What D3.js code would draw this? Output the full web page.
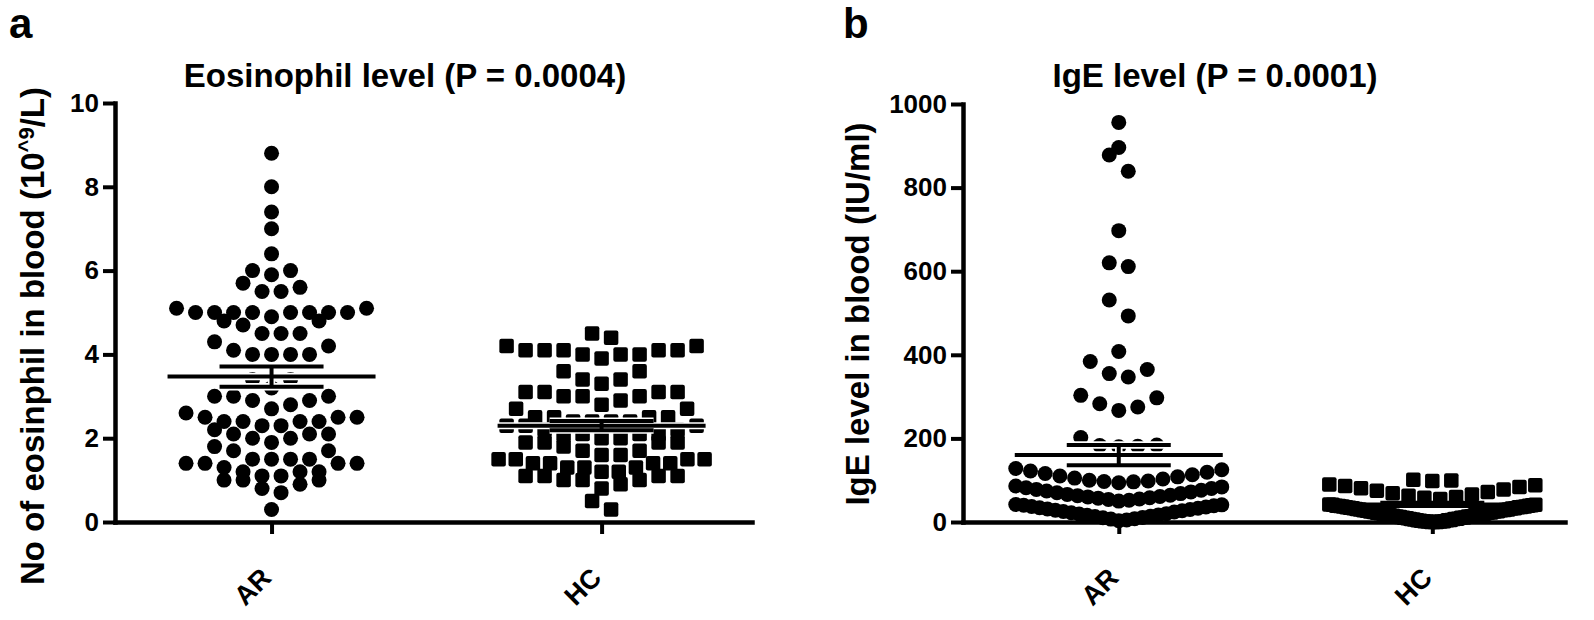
<!DOCTYPE html>
<html lang="en">
<head>
<meta charset="UTF-8">
<title>Eosinophil and IgE level</title>
<style>
    body { margin: 0; background: #fff; }
    svg { display: block; font-family: "Liberation Sans", Arial, sans-serif; font-weight: bold; }
</style>
</head>
<body>
<svg id="chart" width="1594" height="620"></svg>
<script src="https://d3js.org/d3.v7.min.js"></script>
<script>
    // --- data ---
    const groups = ["AR", "HC"];

    const eosAR = [8.8, 8.0, 7.4, 7.0, 6.4, 6.0, 6.0, 5.9, 5.7, 5.6, 5.5, 5.5, 5.1, 5.1,
        5.0, 5.0, 5.0, 5.0, 5.0, 5.0, 5.0, 5.0, 4.9, 4.8, 4.8, 4.7, 4.5, 4.5, 4.5, 4.3, 4.2,
        4.1, 4.0, 4.0, 4.0, 4.0, 3.4, 3.4, 3.2, 3.0, 3.0, 3.0, 2.9, 2.9, 2.8, 2.7, 2.6, 2.5,
        2.5, 2.5, 2.4, 2.4, 2.4, 2.4, 2.3, 2.3, 2.2, 2.1, 2.1, 2.1, 2.0, 2.0, 1.9, 1.8, 1.7,
        1.7, 1.5, 1.5, 1.5, 1.5, 1.4, 1.4, 1.4, 1.4, 1.3, 1.2, 1.2, 1.2, 1.1, 1.1, 1.0, 1.0,
        1.0, 0.9, 0.8, 0.7, 0.3];
    const eosHC = [4.5, 4.4, 4.2, 4.2, 4.1, 4.1, 4.1, 4.1, 4.1, 4.0, 4.0, 4.0, 3.9, 3.6, 3.6,
        3.4, 3.4, 3.3, 3.1, 3.1, 3.1, 3.1, 3.0, 3.0, 3.0, 2.9, 2.8, 2.7, 2.7, 2.5, 2.5, 2.5,
        2.5, 2.4, 2.4, 2.4, 2.4, 2.3, 2.3, 2.3, 2.2, 2.2, 2.1, 2.1, 2.1, 2.1, 2.0, 2.0, 1.9,
        1.9, 1.9, 1.9, 1.8, 1.7, 1.7, 1.6, 1.6, 1.5, 1.5, 1.5, 1.5, 1.4, 1.4, 1.4, 1.4, 1.3,
        1.3, 1.3, 1.2, 1.2, 1.1, 1.1, 1.1, 1.1, 1.0, 1.0, 1.0, 0.9, 0.8, 0.5, 0.3];
    const eosMean = [3.47, 2.30];
    const eosSem = [0.24, 0.11];
    const eosTicks = [0, 2, 4, 6, 8, 10];

    const igeAR = [956, 896, 878, 839, 697, 620, 611, 531, 493, 408, 384, 365, 355, 347,
        303, 297, 283, 275, 267, 202, 184, 183, 181, 180,
        128, 125, 122, 119, 116, 113, 110, 108, 105, 103, 100, 98, 97, 96, 94,
        86, 84, 82, 80, 78, 76, 74, 72, 70, 68, 66, 64, 63, 61, 60, 58, 57, 55, 54, 52, 50,
        42, 41, 40, 39, 37, 36, 34, 33, 31, 30, 28, 27, 25, 24, 22, 20, 19, 17, 16, 14, 13,
        11, 10, 8, 7, 5, 3];
    const igeHC = [101, 99, 98,
        90, 88, 86, 84, 81, 78, 75, 72, 69, 66, 63, 60, 58, 55,
        42, 41, 41, 40, 39, 39, 38, 37, 37, 36, 35, 35, 34, 33, 33, 32, 31, 30, 30, 29,
        28, 28, 27, 26, 25, 25, 24, 23, 22, 22, 21, 20, 19, 19, 18, 17, 16, 16, 15, 14,
        13, 13, 12, 11, 10, 10, 9, 8, 7, 7, 6, 5, 4, 4, 3, 2, 2, 1, 1, 0, 0, 0];
    const igeMean = [160, 42];
    const igeSem = [24, 4];
    const igeTicks = [0, 200, 400, 600, 800, 1000];

    const panels = [
        {
            letter: "a", title: "Eosinophil level (P = 0.0004)",
            ylab: ["No of eosinphil in blood (10", "^9", "/L)"],
            series: [eosAR, eosHC], mean: eosMean, sem: eosSem, ticks: eosTicks,
            domain: [0, 10], bin: 0.35, halo: [7.5, 7],
            left: 115, right: 752, top: 103, bottom: 522, pad: 0.465, align: 0.51,
            labX: 32, labY: 336, titleX: 405, letterX: 9
        },
        {
            letter: "b", title: "IgE level (P = 0.0001)",
            ylab: ["IgE level in blood (IU/ml)"],
            series: [igeAR, igeHC], mean: igeMean, sem: igeSem, ticks: igeTicks,
            domain: [0, 1000], bin: 42, halo: [7.5, 0],
            left: 963, right: 1565, top: 104, bottom: 522, pad: 0.46, align: 0.54,
            labX: 857, labY: 314, titleX: 1215, letterX: 843
        }
    ];

    const svg = d3.select("#chart");
    const spacing = 19, maxWidth = 206, radius = 7.5, sq = 14.5;

    // GraphPad-like scatter: group close values, lowest value in the middle
    function swarm(values, binSize) {
        const sorted = values.slice().sort(d3.ascending);
        const out = [];
        let i = 0;
        while (i < sorted.length) {
            const start = sorted[i];
            let j = i;
            while (j < sorted.length && sorted[j] <= start + binSize + 1e-9) j++;
            const n = j - i;
            const step = n > 1 ? Math.min(spacing, maxWidth / (n - 1)) : 0;
            const slots = d3.range(n).map(k => k - (n - 1) / 2)
                .sort((a, b) => Math.abs(a) - Math.abs(b) || b - a);
            for (let k = 0; k < n; k++) out.push({ value: sorted[i + k], dx: slots[k] * step });
            i = j;
        }
        return out;
    }

    panels.forEach(p => {
        const g = svg.append("g");
        const y = d3.scaleLinear().domain(p.domain).range([p.bottom, p.top]);
        const x = d3.scalePoint().domain(groups).range([p.left, p.right])
            .padding(p.pad).align(p.align);

        // points
        p.series.forEach((vals, gi) => {
            const pts = swarm(vals, p.bin);
            const cx = x(groups[gi]);
            if (gi === 0) {
                g.append("g").selectAll("circle").data(pts).enter().append("circle")
                    .attr("cx", d => cx + d.dx)
                    .attr("cy", d => y(d.value))
                    .attr("r", radius)
                    .attr("fill", "#000");
            } else {
                g.append("g").selectAll("rect").data(pts).enter().append("rect")
                    .attr("x", d => cx + d.dx - sq / 2)
                    .attr("y", d => y(d.value) - sq / 2)
                    .attr("width", sq).attr("height", sq)
                    .attr("rx", 2)
                    .attr("fill", "#000");
            }
        });

        // mean and SEM lines, with a thin white halo
        groups.forEach((grp, gi) => {
            const cx = x(grp), m = p.mean[gi], s = p.sem[gi];
            const segs = [
                [cx - 104, y(m), cx + 104, y(m)],
                [cx - 52, y(m + s), cx + 52, y(m + s)],
                [cx - 52, y(m - s), cx + 52, y(m - s)],
                [cx, y(m + s), cx, y(m - s)]
            ];
            [["#fff", p.halo[gi]], ["#000", 4]].forEach(([col, w]) => {
                if (!w) return;
                g.append("g").selectAll("line").data(segs).enter().append("line")
                    .attr("x1", d => d[0]).attr("y1", d => d[1])
                    .attr("x2", d => d[2]).attr("y2", d => d[3])
                    .attr("stroke", col).attr("stroke-width", w);
            });
        });

        // y axis
        const ya = g.append("g")
            .attr("transform", `translate(${p.left},0)`)
            .call(d3.axisLeft(y).tickValues(p.ticks).tickFormat(d3.format("d"))
                .tickSize(12).tickSizeOuter(0).tickPadding(4));
        // x axis
        const xa = g.append("g")
            .attr("transform", `translate(0,${p.bottom})`)
            .call(d3.axisBottom(x).tickSize(12).tickSizeOuter(0).tickFormat(""));
        [ya, xa].forEach(a => {
            a.select(".domain").attr("stroke", "#000").attr("stroke-width", 4.5)
                .attr("stroke-linecap", "square");
            a.selectAll(".tick line").attr("stroke", "#000").attr("stroke-width", 4);
        });
        ya.selectAll(".tick text")
            .attr("font-size", 26).attr("font-weight", "bold")
            .attr("font-family", "'Liberation Sans', Arial, sans-serif")
            .attr("fill", "#000");

        // category labels, rotated
        groups.forEach(grp => {
            g.append("text")
                .attr("transform", `translate(${x(grp) - 12},${p.bottom + 44}) rotate(-45)`)
                .attr("text-anchor", "end")
                .attr("dy", "0.7em")
                .attr("font-size", 27)
                .text(grp);
        });

        // y title
        const yt = g.append("text")
            .attr("transform", `translate(${p.labX},${p.labY}) rotate(-90)`)
            .attr("text-anchor", "middle")
            .attr("dy", "0.35em")
            .attr("font-size", 33);
        yt.append("tspan").text(p.ylab[0]);
        if (p.ylab.length > 1) {
            yt.append("tspan").attr("font-size", 22).attr("dy", "-0.45em").text(p.ylab[1]);
            yt.append("tspan").attr("dy", "0.3em").text(p.ylab[2]);
        }

        // title and panel letter
        g.append("text")
            .attr("x", p.titleX).attr("y", 87)
            .attr("text-anchor", "middle")
            .attr("font-size", 33)
            .text(p.title);
        g.append("text")
            .attr("x", p.letterX).attr("y", 38)
            .attr("font-size", 42)
            .text(p.letter);
    });
</script>
</body>
</html>
